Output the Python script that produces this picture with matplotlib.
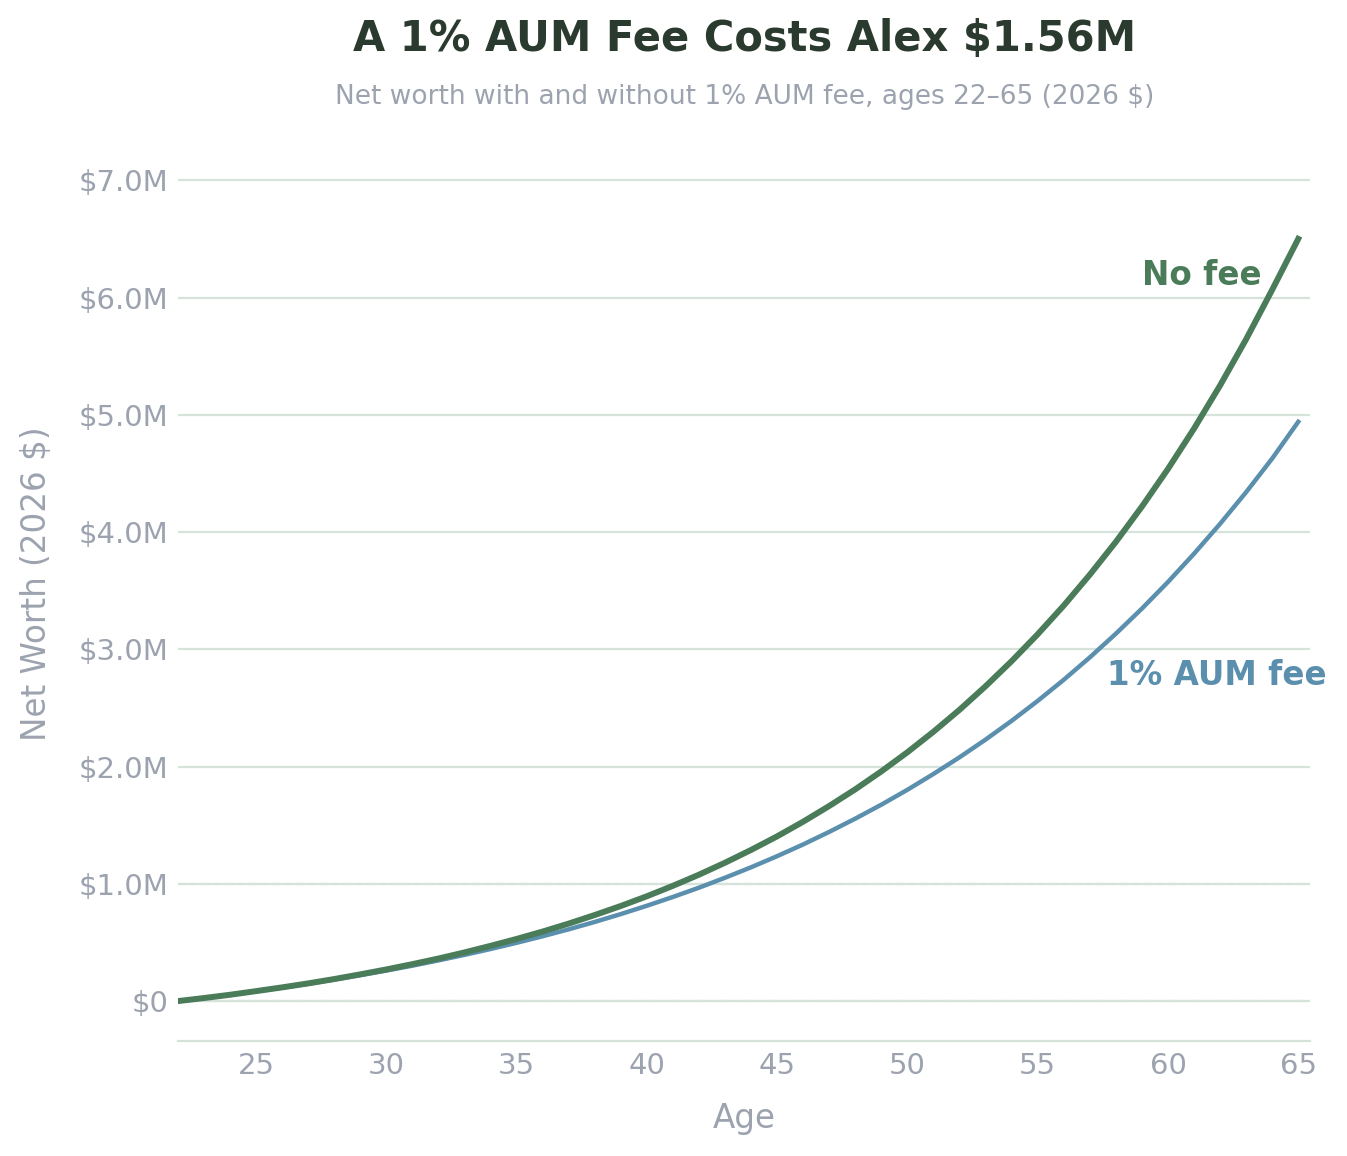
import matplotlib
matplotlib.use("Agg")
import matplotlib.pyplot as plt
from matplotlib.ticker import FuncFormatter

# net worth by age, millions of 2026 dollars
ages = list(range(22, 66))
no_fee = [0.000, 0.026, 0.054, 0.085, 0.117, 0.151, 0.188, 0.228, 0.270, 0.315,
          0.363, 0.415, 0.471, 0.530, 0.593, 0.661, 0.734, 0.811, 0.894, 0.983,
          1.078, 1.180, 1.289, 1.405, 1.530, 1.664, 1.806, 1.959, 2.122, 2.297,
          2.484, 2.685, 2.899, 3.128, 3.373, 3.636, 3.916, 4.217, 4.538, 4.882,
          5.250, 5.644, 6.066, 6.500]
with_fee = [0.000, 0.026, 0.054, 0.084, 0.115, 0.148, 0.184, 0.221, 0.260, 0.302,
            0.347, 0.394, 0.444, 0.497, 0.553, 0.612, 0.675, 0.742, 0.813, 0.888,
            0.967, 1.052, 1.141, 1.236, 1.336, 1.443, 1.556, 1.675, 1.802, 1.937,
            2.079, 2.230, 2.390, 2.560, 2.740, 2.931, 3.133, 3.347, 3.574, 3.815,
            4.070, 4.340, 4.627, 4.940]
y_ticks = [0, 1, 2, 3, 4, 5, 6, 7]
x_ticks = [25, 30, 35, 40, 45, 50, 55, 60, 65]

green = "#4a7c59"
blue = "#5b8fae"
grey = "#9ca3af"
grid_c = "#d5e3db"

fig = plt.figure(figsize=(13.47, 11.56), dpi=100)
ax = fig.add_axes([0.132, 0.0995, 0.8405, 0.775])

for t in y_ticks:
    ax.axhline(t * 1e6, color=grid_c, lw=1.6, zorder=0)
ax.axhline(0, color=grid_c, lw=1.6, ls="--", zorder=0.5)
ax.axhline(1e6, color=grid_c, lw=1.6, ls="--", zorder=0.5)

ax.plot(ages, [v * 1e6 for v in with_fee], color=blue, lw=3.2, zorder=2)
ax.plot(ages, [v * 1e6 for v in no_fee], color=green, lw=4.3, zorder=3)

ax.text(63.6, 6.19e6, "No fee", color=green, fontsize=23.5, fontweight="bold",
        ha="right", va="center")
ax.text(66.1, 2.78e6, "1% AUM fee", color=blue, fontsize=23.5, fontweight="bold",
        ha="right", va="center", clip_on=False)

ax.set_xlim(22, 65.45)
ax.set_ylim(-0.34e6, 7.3e6)
ax.set_xticks(x_ticks)
ax.set_yticks([t * 1e6 for t in y_ticks])
ax.yaxis.set_major_formatter(FuncFormatter(
    lambda v, p: "$0" if v == 0 else "${:.1f}M".format(v / 1e6)))
ax.tick_params(length=0, labelsize=21, labelcolor=grey)
ax.tick_params(axis="y", pad=7)
ax.tick_params(axis="x", pad=8)

for s in ["top", "right", "left"]:
    ax.spines[s].set_visible(False)
ax.spines["bottom"].set_color(grid_c)
ax.spines["bottom"].set_linewidth(1.6)

ax.set_xlabel("Age", fontsize=23.5, color=grey)
ax.set_ylabel("Net Worth (2026 $)", fontsize=23.5, color=grey)
ax.xaxis.set_label_coords(0.5, -0.068)
ax.yaxis.set_label_coords(-0.11, 0.51)

fig.text(0.5525, 0.966, "A 1% AUM Fee Costs Alex $1.56M", fontsize=30,
         fontweight="bold", color="#2b3a2e", ha="center", va="center")
fig.text(0.5525, 0.916, "Net worth with and without 1% AUM fee, ages 22\u201365 (2026 $)",
         fontsize=19, color=grey, ha="center", va="center")

fig.savefig("out.png", dpi=100)
